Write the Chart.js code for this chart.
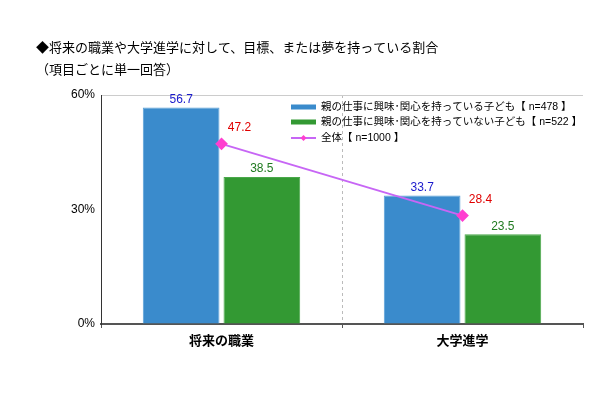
<!DOCTYPE html>
<html>
<head>
<meta charset="utf-8">
<script src="https://cdn.jsdelivr.net/npm/chart.js@4/dist/chart.umd.min.js"></script>
<style>
  html, body { margin:0; padding:0; background:#fff; }
  #wrap { position:relative; width:610px; height:400px; }
</style>
</head>
<body>
<div id="wrap"><canvas id="c" width="610" height="400"></canvas></div>
<script>
const titleLines = ["◆将来の職業や大学進学に対して、目標、または夢を持っている割合", "（項目ごとに単一回答）"];
const categories = ["将来の職業", "大学進学"];
const interested = [56.7, 33.7];
const notInterested = [38.5, 23.5];
const overall = [47.2, 28.4];
const seriesLabels = ["親の仕事に興味･関心を持っている子ども【 n=478 】", "親の仕事に興味･関心を持っていない子ども【 n=522 】", "全体【 n=1000 】"];
const yTicks = [0, 30, 60];

const FONT = "'Liberation Sans', 'Noto Sans CJK JP', sans-serif";

const decor = {
  id: "decor",
  beforeDraw(chart) {
    const ctx = chart.ctx;
    ctx.save();
    ctx.fillStyle = "#000";
    ctx.font = "13px " + FONT;
    ctx.textBaseline = "middle";
    ctx.fillText(titleLines[0], 36, 48);
    ctx.fillText(titleLines[1], 36, 70);
    ctx.restore();
  },
  afterDatasetsDraw(chart) {
    const ctx = chart.ctx;
    ctx.save();
    ctx.font = "12px " + FONT;
    ctx.textAlign = "center";
    ctx.textBaseline = "middle";
    const labelColors = ["#1a1acc", "#1f7a1f"];
    [0, 1].forEach(di => {
      chart.getDatasetMeta(di).data.forEach((bar, i) => {
        ctx.fillStyle = labelColors[di];
        ctx.fillText(chart.data.datasets[di].data[i].toFixed(1), bar.x, bar.y - 8);
      });
    });
    ctx.fillStyle = "#e00000";
    chart.getDatasetMeta(2).data.forEach((pt, i) => {
      ctx.fillText(overall[i].toFixed(1), pt.x + 18, pt.y - 16);
    });

    // legend
    const lx = 291, ly = [107, 122, 138];
    ctx.textAlign = "left";
    ctx.font = "10.5px " + FONT;
    chart.data.datasets.forEach((ds, i) => {
      const y = ly[i];
      if (i < 2) {
        ctx.fillStyle = ds.backgroundColor;
        ctx.fillRect(lx, y - 2.5, 25, 5);
      } else {
        ctx.strokeStyle = ds.borderColor;
        ctx.lineWidth = 2;
        ctx.beginPath(); ctx.moveTo(lx, y); ctx.lineTo(lx + 25, y); ctx.stroke();
        ctx.fillStyle = ds.pointBackgroundColor;
        ctx.beginPath();
        ctx.moveTo(lx + 12.5, y - 3); ctx.lineTo(lx + 15.5, y); ctx.lineTo(lx + 12.5, y + 3); ctx.lineTo(lx + 9.5, y);
        ctx.fill();
      }
      ctx.fillStyle = "#000";
      ctx.fillText(ds.label, lx + 30, y);
    });
    ctx.restore();
  }
};

new Chart(document.getElementById("c"), {
  data: {
    labels: categories,
    datasets: [
      {type:"bar", label:seriesLabels[0], data:interested, backgroundColor:"#3a8bcc",
       borderColor:"#5aa0d8", borderWidth:1, categoryPercentage:0.67, barPercentage:0.95, order:1},
      {type:"bar", label:seriesLabels[1], data:notInterested, backgroundColor:"#339933",
       borderColor:"#4aa84a", borderWidth:1, categoryPercentage:0.67, barPercentage:0.95, order:1},
      {type:"line", label:seriesLabels[2], data:overall, borderColor:"#c766f5", borderWidth:2,
       pointStyle:"rectRot", pointRadius:5, pointBackgroundColor:"#ff3fd0", pointBorderColor:"#ff3fd0",
       order:0},
    ],
  },
  options: {
    responsive:false, animation:false,
    layout:{padding:{top:95, right:27, left:0, bottom:0}},
    plugins:{legend:{display:false}, tooltip:{enabled:false}},
    scales:{
      x:{
        offset:true,
        afterFit:s=>{ s.height = 76; },
        grid:{offset:true, drawTicks:true, tickLength:4, tickColor:"#555",
              color:c=>c.index===1?"#bbb":(c.index===2?"#ccc":"rgba(0,0,0,0)"), lineWidth:1},
        border:{color:"#555", width:2, dash:[3,3]},
        ticks:{color:"#000", font:{family:FONT, size:13, weight:"bold"}, padding:6},
      },
      y:{
        min:0, max:60,
        afterFit:s=>{ s.width = 101; },
        afterBuildTicks:s=>{ s.ticks = yTicks.map(v=>({value:v})); },
        grid:{color:c=>c.tick && c.tick.value===60?"#ccc":"rgba(0,0,0,0)", tickLength:0, drawTicks:false},
        border:{color:"#333", width:1},
        ticks:{color:"#000", font:{family:FONT, size:12}, padding:6, callback:v=>v+"%"},
      },
    },
  },
  plugins:[decor],
});
</script>
</body>
</html>
